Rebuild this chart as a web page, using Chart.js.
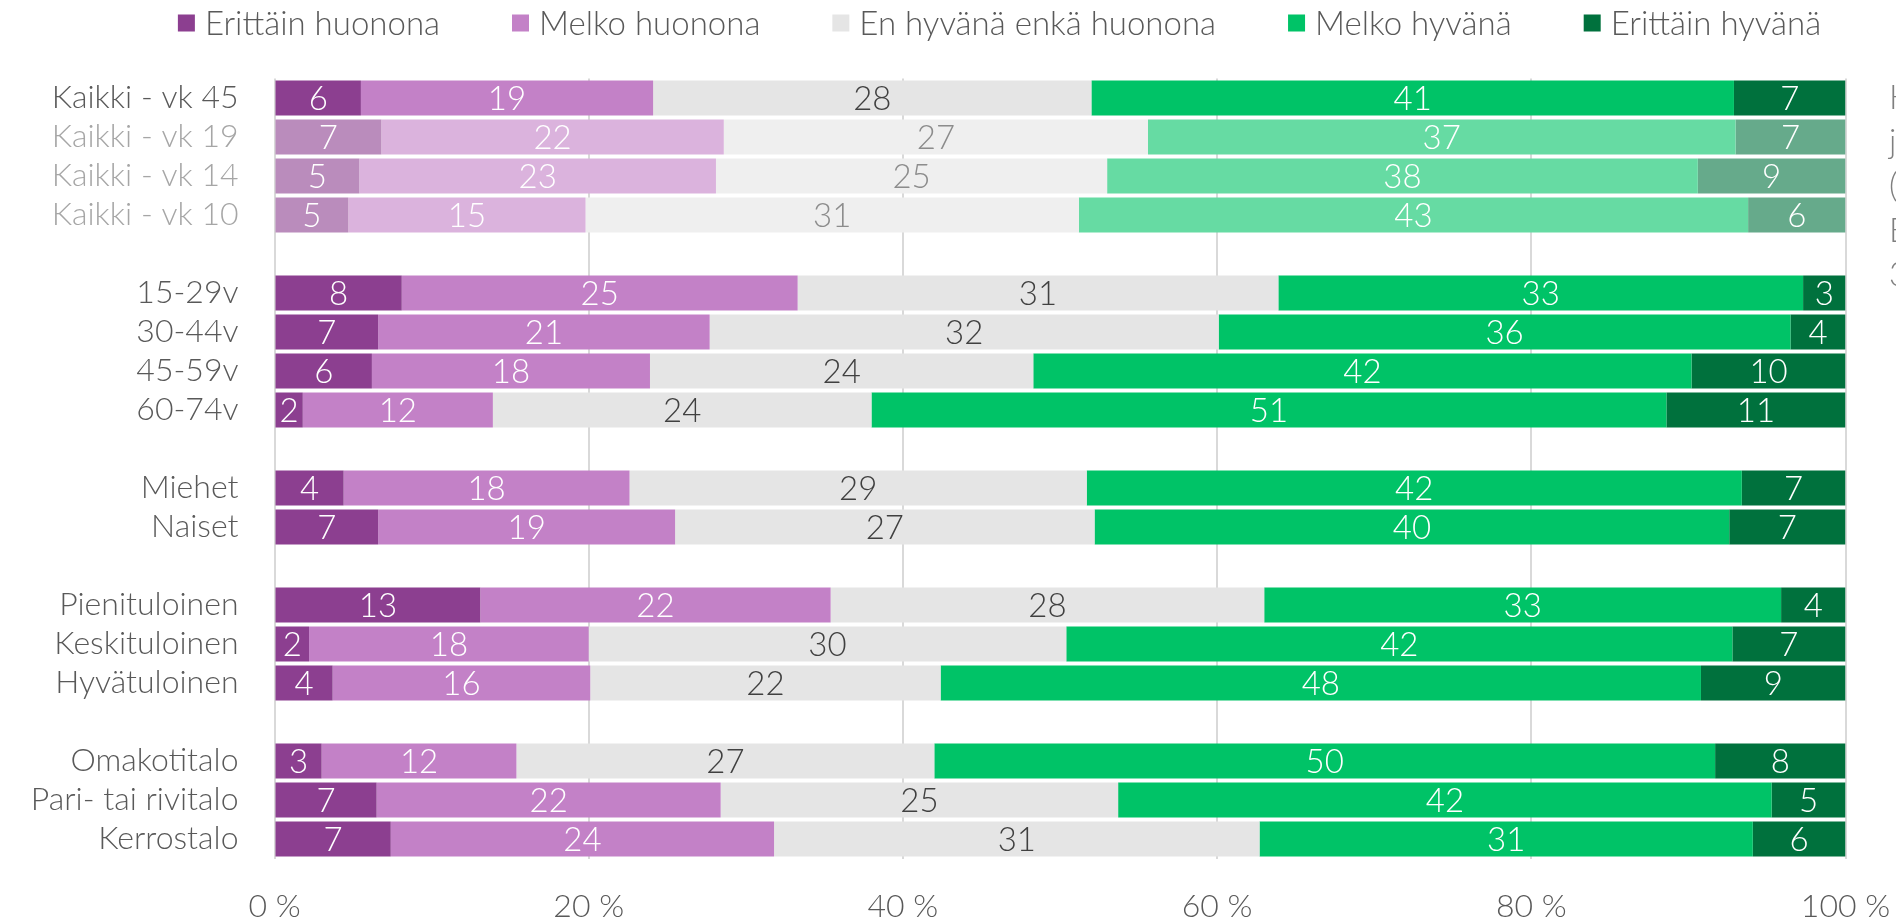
<!DOCTYPE html>
<html>
<head>
<meta charset="utf-8">
<script src="https://cdn.jsdelivr.net/npm/chart.js@4.4.1/dist/chart.umd.min.js"></script>
<style>
  html, body { margin: 0; padding: 0; background: #fff; }
  #wrap { width: 1896px; height: 921px; }
</style>
</head>
<body>
<div id="wrap"><canvas id="chart" width="1896" height="921"></canvas></div>
<script>
// rows (empty strings are the spacer rows between groups)
const categories = [
  'Kaikki - vk 45', 'Kaikki - vk 19', 'Kaikki - vk 14', 'Kaikki - vk 10', '',
  '15-29v', '30-44v', '45-59v', '60-74v', '',
  'Miehet', 'Naiset', '',
  'Pienituloinen', 'Keskituloinen', 'Hyvätuloinen', '',
  'Omakotitalo', 'Pari- tai rivitalo', 'Kerrostalo'
];
const seriesNames = ['Erittäin huonona', 'Melko huonona', 'En hyvänä enkä huonona', 'Melko hyvänä', 'Erittäin hyvänä'];

// shares in %
const erittainHuonona = [5.5, 6.8, 5.4, 4.7, null, 8.1, 6.6, 6.2, 1.8, null, 4.4, 6.6, null, 13.1, 2.2, 3.7, null, 3.0, 6.5, 7.4];
const melkoHuonona    = [18.6, 21.8, 22.7, 15.1, null, 25.2, 21.1, 17.7, 12.1, null, 18.2, 18.9, null, 22.3, 17.8, 16.4, null, 12.4, 21.9, 24.4];
const enHyvanaEnka    = [27.9, 27.0, 24.9, 31.4, null, 30.6, 32.4, 24.4, 24.1, null, 29.1, 26.7, null, 27.6, 30.4, 22.3, null, 26.6, 25.3, 30.9];
const melkoHyvana     = [40.9, 37.4, 37.6, 42.6, null, 33.4, 36.4, 41.9, 50.6, null, 41.7, 40.4, null, 32.9, 42.4, 48.4, null, 49.7, 41.6, 31.4];
const erittainHyvana  = [7.1, 7.0, 9.4, 6.2, null, 2.7, 3.5, 9.8, 11.4, null, 6.6, 7.4, null, 4.1, 7.2, 9.2, null, 8.3, 4.7, 5.9];

const tickLabels = ['0 %', '20 %', '40 %', '60 %', '80 %', '100 %'];
const fadedRows = [1, 2, 3];
const sideNote = ['K', 'j', '(', 'E', '3'];

const colors = ['#8C3F90', '#C381C7', '#E5E5E5', '#00C367', '#00713D'];
const fadedColors = ['#BA8CBC', '#DBB3DD', '#EFEFEF', '#66DBA3', '#66AA8B'];
const FONT = 'Lato, "Open Sans", sans-serif';
const TEXT = '#595959';

const allSeries = [erittainHuonona, melkoHuonona, enHyvanaEnka, melkoHyvana, erittainHyvana];

const datasets = allSeries.map((data, k) => ({
  label: seriesNames[k],
  data,
  backgroundColor: ctx => (ctx.dataIndex !== undefined && fadedRows.includes(ctx.dataIndex)) ? fadedColors[k] : colors[k],
  borderWidth: 0,
  barPercentage: 0.9,
  categoryPercentage: 1.0
}));

// numbers inside the segments
const barLabels = {
  id: 'barLabels',
  afterDatasetsDraw(chart) {
    const ctx = chart.ctx;
    ctx.save();
    ctx.font = '300 33px ' + FONT;
    ctx.textAlign = 'center';
    ctx.textBaseline = 'middle';
    chart.data.datasets.forEach((ds, di) => {
      chart.getDatasetMeta(di).data.forEach((bar, i) => {
        const v = ds.data[i];
        if (v == null) return;
        const faded = fadedRows.includes(i);
        ctx.fillStyle = di === 2 ? (faded ? '#8C8C8C' : '#404040') : '#FFFFFF';
        const p = bar.getProps(['x', 'y', 'base'], true);
        ctx.fillText(String(Math.round(v)), (p.x + p.base) / 2, p.y + 1);
      });
    });
    ctx.restore();
  }
};

// legend row on top + the clipped text box at the right edge
const topLegend = {
  id: 'topLegend',
  afterDraw(chart) {
    const ctx = chart.ctx;
    ctx.save();
    ctx.font = '300 33px ' + FONT;
    ctx.textBaseline = 'middle';
    const box = 17, gapText = 10, gapItem = 72;
    const widths = seriesNames.map(s => ctx.measureText(s).width);
    const total = widths.reduce((a, w) => a + box + gapText + w, 0) + gapItem * (seriesNames.length - 1);
    let x = 999.5 - total / 2;
    seriesNames.forEach((s, k) => {
      ctx.fillStyle = colors[k];
      ctx.fillRect(x, 14.5, box, box);
      ctx.fillStyle = TEXT;
      ctx.fillText(s, x + box + gapText, 24);
      x += box + gapText + widths[k] + gapItem;
    });
    ctx.fillStyle = '#7F7F7F';
    sideNote.forEach((c, i) => ctx.fillText(c, 1889, 98 + i * 44.3));
    ctx.restore();
  }
};

new Chart(document.getElementById('chart'), {
  type: 'bar',
  data: { labels: categories, datasets },
  options: {
    indexAxis: 'y',
    responsive: false,
    animation: false,
    devicePixelRatio: 1,
    layout: { padding: { left: 0, right: 50.5, top: 78.5, bottom: 0 } },
    plugins: { legend: { display: false }, tooltip: { enabled: false } },
    scales: {
      x: {
        stacked: true,
        min: 0,
        max: 100,
        grid: { color: '#D9D9D9', lineWidth: 2, drawTicks: false },
        border: { display: false },
        ticks: {
          stepSize: 20,
          padding: 29,
          color: TEXT,
          font: { family: FONT, size: 32, weight: 300 },
          callback: (v, i) => tickLabels[i]
        },
        afterFit: s => { s.height = 62.5; s.paddingLeft = 0; s.paddingRight = 0; }
      },
      y: {
        stacked: true,
        grid: { display: false },
        border: { display: false },
        ticks: {
          autoSkip: false,
          padding: 28,
          color: ctx => fadedRows.includes(ctx.index) ? '#A6A6A6' : TEXT,
          font: { family: FONT, size: 32, weight: 300 }
        },
        afterFit: s => { s.width = 274.5; s.paddingTop = 0; s.paddingBottom = 0; }
      }
    }
  },
  plugins: [barLabels, topLegend]
});
</script>
</body>
</html>
